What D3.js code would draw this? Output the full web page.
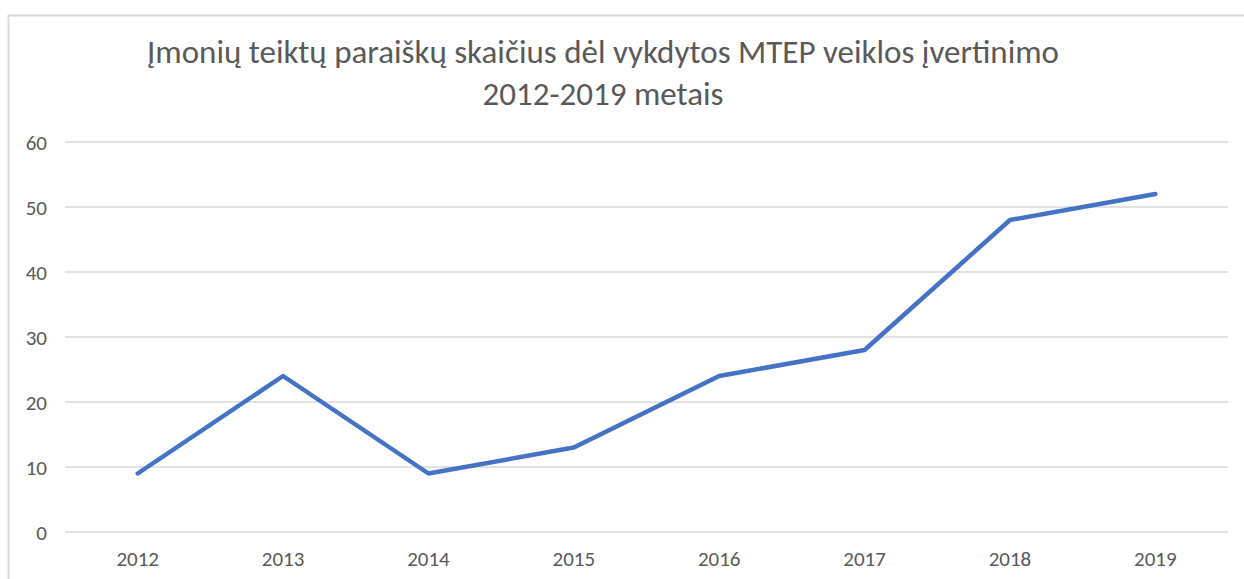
<!DOCTYPE html>
<html>
<head>
<meta charset="utf-8">
<script src="https://cdn.jsdelivr.net/npm/d3@7"></script>
<style>
  body { margin: 0; background: #fff; }
  svg { display: block; }
</style>
</head>
<body>
<script>
var years = ["2012", "2013", "2014", "2015", "2016", "2017", "2018", "2019"];
var counts = [9, 24, 9, 13, 24, 28, 48, 52];
var yTicks = [0, 10, 20, 30, 40, 50, 60];
var titleLines = ["Įmonių teiktų paraiškų skaičius dėl vykdytos MTEP veiklos įvertinimo", "2012-2019 metais"];

var width = 1244, height = 579;
var plotLeft = 65, plotRight = 1228, plotTop = 142, plotBottom = 532;
var font = "Carlito, Calibri, 'Open Sans', sans-serif";

var svg = d3.select("body").append("svg")
    .attr("width", width).attr("height", height);

// chart frame (only top and left edges visible in the crop)
svg.append("path")
    .attr("d", "M8.5," + height + "V15.5H" + width)
    .attr("fill", "none").attr("stroke", "#d9d9d9").attr("stroke-width", 2);

var x = d3.scaleBand().domain(years).range([plotLeft, plotRight]);
var y = d3.scaleLinear().domain([0, 60]).range([plotBottom, plotTop]);

// gridlines
svg.append("g").selectAll("line")
    .data(yTicks)
    .enter().append("line")
    .attr("x1", plotLeft).attr("x2", plotRight)
    .attr("y1", function(d) { return y(d); })
    .attr("y2", function(d) { return y(d); })
    .attr("stroke", "#d9d9d9").attr("stroke-width", 1.5);

// y axis labels
var yAxis = svg.append("g")
    .attr("transform", "translate(47,1)")
    .call(d3.axisLeft(y).tickValues(yTicks).tickSize(0).tickPadding(0));
yAxis.select(".domain").remove();
yAxis.selectAll("text")
    .attr("fill", "#595959").style("font-family", font).style("font-size", "21px");

// x axis labels
var xAxis = svg.append("g")
    .attr("transform", "translate(0," + (plotBottom + 19) + ")")
    .call(d3.axisBottom(x).tickSize(0).tickPadding(0));
xAxis.select(".domain").remove();
xAxis.selectAll("text")
    .attr("fill", "#595959").style("font-family", font).style("font-size", "21px");

// series line
var line = d3.line()
    .x(function(d, i) { return x(years[i]) + x.bandwidth() / 2; })
    .y(function(d) { return y(d); });

svg.append("path")
    .datum(counts)
    .attr("d", line)
    .attr("fill", "none")
    .attr("stroke", "#4472c4")
    .attr("stroke-width", 4.5)
    .attr("stroke-linejoin", "round")
    .attr("stroke-linecap", "round");

// title
svg.append("g").selectAll("text")
    .data(titleLines)
    .enter().append("text")
    .attr("x", 603)
    .attr("y", function(d, i) { return 63 + i * 42; })
    .attr("text-anchor", "middle")
    .attr("fill", "#595959")
    .style("font-family", font)
    .style("font-size", "33px")
    .text(function(d) { return d; });
</script>
</body>
</html>
